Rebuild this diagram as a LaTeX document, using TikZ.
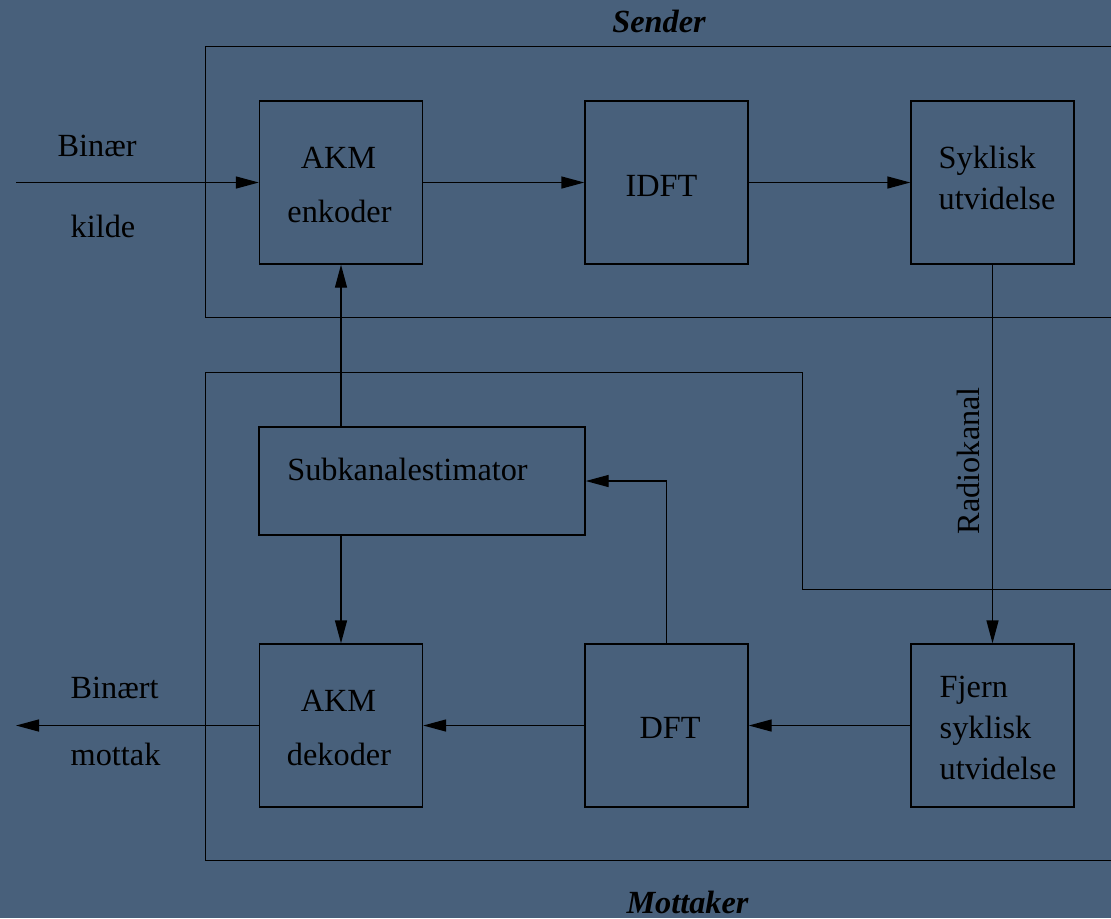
\documentclass[tikz,border=0pt]{standalone}
\usepackage{fontspec}
\setmainfont{Liberation Serif}
\usepackage{xcolor}
\usetikzlibrary{arrows.meta}
\definecolor{bgblue}{RGB}{72,96,123}

\begin{document}
\begin{tikzpicture}[x=0.5pt,y=-0.5pt,line width=0.7pt,
  blk/.style={rectangle,draw=black,inner sep=0pt,minimum width=81.5pt,minimum height=81.5pt},
  txt/.style={inner sep=0pt,anchor=base,font=\fontsize{16.15}{20}\selectfont},
  ttl/.style={txt,font=\fontsize{16.15}{20}\selectfont\bfseries\itshape},
  >={Triangle[length=11.5pt,width=6pt]}]
\fill[bgblue] (0,0) rectangle (1111,918);
\clip (0,0) rectangle (1111,918);
% sender and receiver frames
\draw (205.3,46.7) rectangle (1140,317.7);
\draw (1140,589.3) -- (802.6,589.3) -- (802.6,372.7) -- (205.3,372.7)
  -- (205.3,860.7) -- (1140,860.7);
\node (snd) at (659,32.5) [ttl] {Sender};
\node (rcv) at (687.5,913.5) [ttl] {Mottaker};
% blocks
\node (enc) at (341,182.5) [blk] {};
\node (idft) at (666.5,182.5) [blk] {};
\node (cp) at (992.5,182.5) [blk] {};
\node (est) at (422,481) [blk,minimum width=163pt,minimum height=54pt] {};
\node (dec) at (341,725.5) [blk] {};
\node (dft) at (666.5,725.5) [blk] {};
\node (rcp) at (992.5,725.5) [blk] {};
% texts
\node (bin) at (57,156) [txt,anchor=base west] {Binær};
\node (kil) at (70,237) [txt,anchor=base west] {kilde};
\node (enca) at (338.5,168) [txt] {AKM};
\node (encb) at (339.5,222) [txt] {enkoder};
\node (idftt) at (661.5,196) [txt] {IDFT};
\node (cpa) at (938,168) [txt,anchor=base west] {Syklisk};
\node (cpb) at (938,209) [txt,anchor=base west] {utvidelse};
\node (estt) at (286.6,480) [txt,anchor=base west] {Subkanalestimator};
\node (radio) at (979,460.7) [txt,rotate=90] {Radiokanal};
\node (bint) at (70,698.3) [txt,anchor=base west] {Binært};
\node (mot) at (70,765.7) [txt,anchor=base west] {mottak};
\node (deca) at (338.5,711.7) [txt] {AKM};
\node (decb) at (339,765) [txt] {dekoder};
\node (dftt) at (670,738.3) [txt] {DFT};
\node (rcpa) at (939,697.3) [txt,anchor=base west] {Fjern};
\node (rcpb) at (939,738.3) [txt,anchor=base west] {syklisk};
\node (rcpc) at (939,779.3) [txt,anchor=base west] {utvidelse};
% connectors
\coordinate (src) at (16,182.5);
\coordinate (snk) at (16,725.5);
\draw[->] (src) -- (enc.west);
\draw[->] (enc) -- (idft);
\draw[->] (idft) -- (cp);
\draw[->] (cp.south) -- (rcp.north);
\draw[->] (rcp) -- (dft);
\draw[->] (dft) -- (dec);
\draw[->] (dec.west) -- (snk);
\draw[->] (dft.north) |- (est.east);
\draw[->] (est.north -| enc) -- (enc.south);
\draw[->] (est.south -| dec) -- (dec.north);
\end{tikzpicture}
\end{document}
